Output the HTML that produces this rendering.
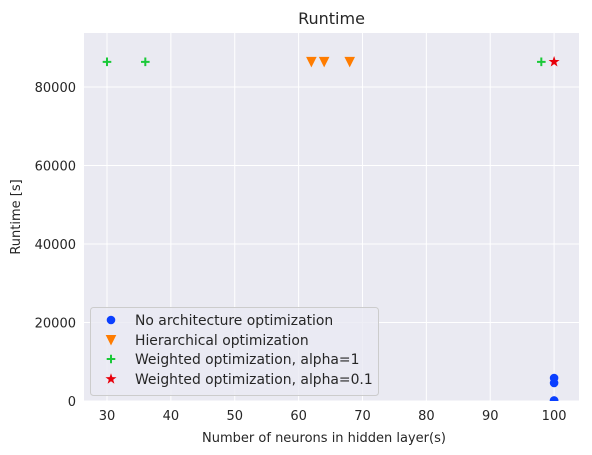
<!DOCTYPE html>
<html><head><meta charset="utf-8"><style>
body{margin:0;background:#fff;}
svg{display:block;font-family:"DejaVu Sans","Liberation Sans",sans-serif;}
</style></head><body>
<svg id="chart" width="592" height="455" viewBox="0 0 592 455"></svg>
<script>
const xTicks=[30,40,50,60,70,80,90,100];
const yTicks=[0,20000,40000,60000,80000];
const yTickLabels=["0","20000","40000","60000","80000"];
const noArchX=[100,100,100,100];
const noArchY=[5860,4590,0,150];
const hierX=[62,64,68];
const hierY=[86400,86400,86400];
const w1X=[30,36,98];
const w1Y=[86400,86400,86400];
const w01X=[100];
const w01Y=[86400];

const L=84,R=579,T=33,B=401;
const xMin=26.4,xMax=103.9,yMin=0,yMax=93750;
const sx=v=>L+(v-xMin)/(xMax-xMin)*(R-L);
const sy=v=>B-(v-yMin)/(yMax-yMin)*(B-T);
const NS="http://www.w3.org/2000/svg";
const svg=document.getElementById('chart');
function mk(tag,attrs,parent){const e=document.createElementNS(NS,tag);for(const k in attrs)e.setAttribute(k,attrs[k]);(parent||svg).appendChild(e);return e;}

let bg=mk('rect',{x:L,y:T,width:R-L,height:B-T,fill:'#eaeaf2'});


let title=mk('text',{x:(L+R)/2,y:24,'text-anchor':'middle','font-size':16,fill:'#262626'});
title.textContent='Runtime';



xTicks.forEach(t=>{
  const g=mk('line',{x1:sx(t),x2:sx(t),y1:T,y2:B,stroke:'#fff','stroke-width':1});
  
  
  const tx=mk('text',{x:sx(t),y:B+19,'text-anchor':'middle','font-size':13,fill:'#262626'});
  tx.textContent=t;
  
  
});
yTicks.forEach((t,i)=>{
  const g=mk('line',{x1:L,x2:R,y1:sy(t),y2:sy(t),stroke:'#fff','stroke-width':1});
  
  
  const tx=mk('text',{x:L-8,y:sy(t)+5,'text-anchor':'end','font-size':13,fill:'#262626'});
  tx.textContent=yTickLabels[i];
  
  
});
let xl=mk('text',{x:324,y:442,'text-anchor':'middle','font-size':13,fill:'#262626'});
xl.textContent='Number of neurons in hidden layer(s)';


let yl=mk('text',{x:0,y:0,'text-anchor':'middle','font-size':13,fill:'#262626',transform:`translate(20,${(T+B)/2}) rotate(-90)`});
yl.textContent='Runtime [s]';



const clip=mk('clipPath',{id:'pc'});mk('rect',{x:L,y:T,width:R-L,height:B-T},clip);
const plot=mk('g',{'clip-path':'url(#pc)'});

function circle(x,y,p){return mk('circle',{cx:x,cy:y,r:4.3,fill:'#0a3fff'},p);}
function tri(x,y,p){return mk('path',{d:`M${x-5.3},${y-5}L${x+5.3},${y-5}L${x},${y+5.5}Z`,fill:'#ff7c00'},p);}
function plus(x,y,p){return mk('path',{d:`M${x-4.3},${y}H${x+4.3}M${x},${y-4.3}V${y+4.3}`,stroke:'#1ac938','stroke-width':2},p);}
function star(x,y,p){let d='';for(let i=0;i<10;i++){const r=i%2?2.3:5.8,a=-Math.PI/2+i*Math.PI/5;d+=(i?'L':'M')+(x+r*Math.cos(a)).toFixed(2)+','+(y+r*Math.sin(a)).toFixed(2);}return mk('path',{d:d+'Z',fill:'#e8000b'},p);}

noArchX.forEach((v,i)=>{const e=circle(sx(v),sy(noArchY[i]),plot);});
hierX.forEach((v,i)=>{const e=tri(sx(v),sy(hierY[i]),plot);});
w1X.forEach((v,i)=>{const e=plus(sx(v),sy(w1Y[i]),plot);});
w01X.forEach((v,i)=>{const e=star(sx(v),sy(w01Y[i]),plot);});

const lg=mk('g',{});


mk('rect',{x:90.5,y:307.5,width:288,height:88,rx:3,fill:'#eaeaf2','fill-opacity':0.8,stroke:'#cccccc'},lg);
const labels=['No architecture optimization','Hierarchical optimization','Weighted optimization, alpha=1','Weighted optimization, alpha=0.1'];
const fns=[circle,tri,plus,star];
const ys=[320,340,359,379];
labels.forEach((s,i)=>{
  const m=fns[i](111,ys[i],lg);
  
  
  const t=mk('text',{x:135,y:ys[i]+5,'font-size':13.9,fill:'#262626'},lg);
  t.textContent=s;
  
  
});
</script>
</body></html>
